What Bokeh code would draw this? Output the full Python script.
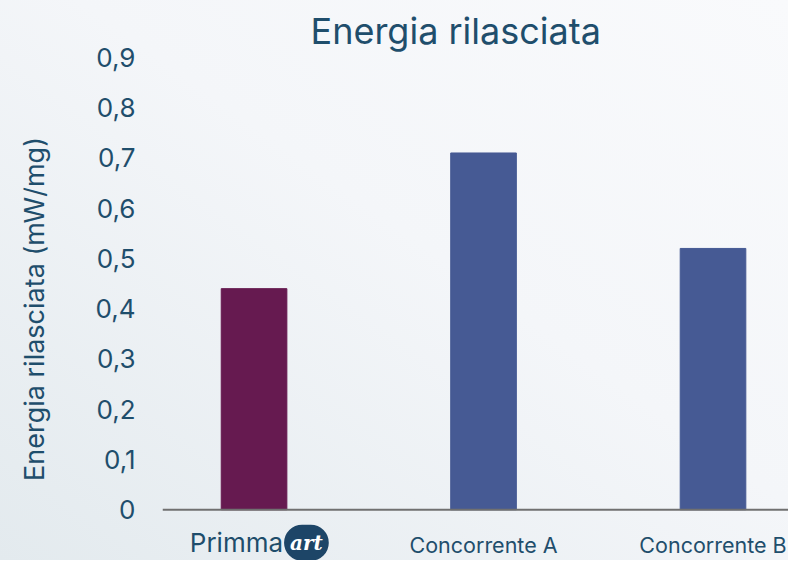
from bokeh.plotting import figure
from bokeh.models import Range1d, FixedTicker, ColumnDataSource, Span
from bokeh.core.properties import value
from bokeh.embed import file_html
from bokeh.resources import INLINE

categories = ["Primmaart", "Concorrente A", "Concorrente B"]
values = [0.44, 0.71, 0.52]
bar_colors = ["#661a50", "#465a94", "#465a94"]
y_ticks = [0, 0.1, 0.2, 0.3, 0.4, 0.5, 0.6, 0.7, 0.8, 0.9]
y_tick_labels = ["0", "0,1", "0,2", "0,3", "0,4", "0,5", "0,6", "0,7", "0,8", "0,9"]
logo_parts = ["Primma", "art"]

FONT = "Inter"
TEXT = "#1f4e6c"

xs = list(range(len(categories)))
src = ColumnDataSource(dict(x=xs, top=values, color=bar_colors, name=categories))
lab_src = ColumnDataSource(dict(x=xs[1:], y=[0] * (len(xs) - 1), text=categories[1:]))

p = figure(width=788, height=560, output_backend="svg", toolbar_location=None,
           x_range=Range1d(-0.399, 2.329), y_range=Range1d(-0.101, 0.9),
           min_border_left=162, min_border_right=0, min_border_top=57,
           min_border_bottom=0)
p.background_fill_color = None
p.border_fill_color = None
p.styles = {"background-image":
            "linear-gradient(to bottom left, #f9fafc 0%, #f4f6f9 45%, #e3eaee 100%)"}
p.outline_line_color = None
p.grid.visible = False
p.xaxis.visible = False

p.vbar(x="x", top="top", bottom=0, width=0.286, color="color", source=src)
p.add_layout(Span(location=0, dimension="width", line_color="#707070", line_width=2))

p.text(x="x", y="y", text="text", source=lab_src, text_align="center",
       text_baseline="middle", y_offset=35, text_font=value(FONT),
       text_font_size="21.5px", text_color=TEXT)

p.text(x=[xs[0]], y=[0], text=[logo_parts[0]], x_offset=29, y_offset=33,
       text_align="right", text_baseline="middle", text_font=value(FONT),
       text_font_size="26px", text_color="#1e4d6b")
p.text(x=[xs[0]], y=[0], text=[logo_parts[1]], x_offset=30, y_offset=33,
       text_align="left", text_baseline="middle", text_font=value("DejaVu Serif"),
       text_font_style="bold italic", text_font_size="20px", text_color="white",
       background_fill_color="#1d4567", padding=6, border_radius=18)

p.title.text = "Energia rilasciata"
p.title.align = "left"
p.title.offset = 148
p.title.text_font = FONT
p.title.text_font_size = "36px"
p.title.text_font_style = "normal"
p.title.text_color = TEXT

ya = p.yaxis[0]
ya.ticker = FixedTicker(ticks=y_ticks)
ya.major_label_overrides = {t: l for t, l in zip(y_ticks, y_tick_labels)}
ya.axis_line_color = None
ya.major_tick_line_color = None
ya.minor_tick_line_color = None
ya.major_tick_out = 0
ya.major_tick_in = 0
ya.major_label_text_font = FONT
ya.major_label_text_font_size = "26px"
ya.major_label_text_color = TEXT
ya.major_label_standoff = 27
ya.axis_label = "Energia rilasciata (mW/mg)"
ya.axis_label_text_font = FONT
ya.axis_label_text_font_size = "27px"
ya.axis_label_text_font_style = "normal"
ya.axis_label_text_color = TEXT
ya.axis_label_standoff = 41

open("out.html", "w").write(file_html(p, INLINE))
